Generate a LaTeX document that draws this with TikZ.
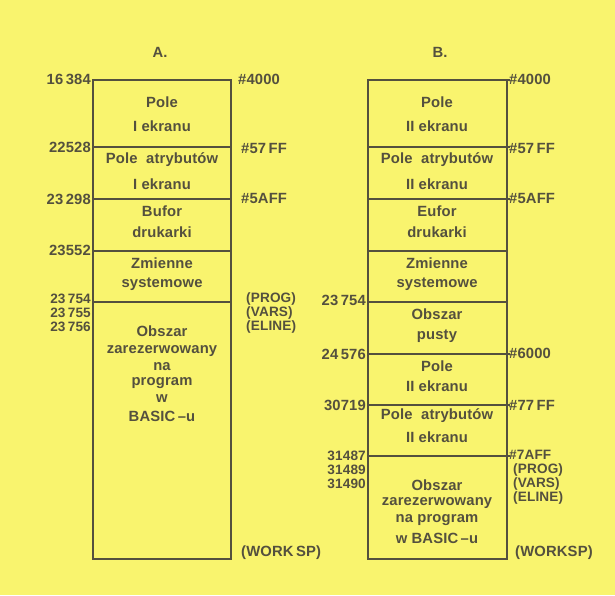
\documentclass[tikz,border=0pt]{standalone}
\usepackage{fontspec}
\setmainfont{Liberation Sans}
\definecolor{bg}{RGB}{249,244,110}
\definecolor{ink}{RGB}{84,80,62}
\begin{document}
\begin{tikzpicture}[x=1pt,y=-1pt,
  lbl/.style={font=\bfseries\fontsize{14.8}{16}\selectfont\addfontfeature{LetterSpace=1}, text=ink, inner sep=0pt},
  lnum/.style={lbl, anchor=east},
  rnum/.style={lbl, anchor=west},
  stk/.style={font=\bfseries\fontsize{13.6}{15}\selectfont\addfontfeature{LetterSpace=1}},
  memline/.style={draw=ink, line width=1.5pt},
]
\fill[bg] (0,0) rectangle (615,595);
\useasboundingbox (0,0) rectangle (615,595);

% titles
\node[lbl] (tA) at (160,52) {A.};
\node[lbl] (tB) at (440,52) {B.};

% ---------- Box A ----------
\draw[memline] (93,80) rectangle (231,559);
\foreach \yy in {147,199,251,302} \draw[memline] (93,\yy) -- (231,\yy);

\node[lbl] (a1a) at (162,102) {Pole};
\node[lbl] (a1b) at (162,126) {I ekranu};
\node[lbl] (a2a) at (162,160) {Pole\ \ atrybutów};
\node[lbl] (a2b) at (162,184) {I ekranu};
\node[lbl] (a3a) at (162,211) {Bufor};
\node[lbl] (a3b) at (162,232) {drukarki};
\node[lbl] (a4a) at (162,263) {Zmienne};
\node[lbl] (a4b) at (162,284) {systemowe};
\node[lbl] (a5a) at (162,331) {Obszar};
\node[lbl] (a5b) at (162,351) {zarezerwowany};
\node[lbl] (a5c) at (162,367) {na};
\node[lbl] (a5d) at (162,383) {program};
\node[lbl] (a5e) at (162,399) {w};
\node[lbl] (a5f) at (162,416) {BASIC\,–u};

\node[lnum] (an1) at (91,79) {16\,384};
\node[lnum] (an2) at (91,147) {22528};
\node[lnum] (an3) at (91,199) {23\,298};
\node[lnum] (an4) at (91,250) {23552};
\node[lnum,stk] (an5) at (91,299) {23\,754};
\node[lnum,stk] (an6) at (91,313) {23\,755};
\node[lnum,stk] (an7) at (91,327) {23\,756};

\node[rnum] (ah1) at (238,79) {\#4000};
\node[rnum] (ah2) at (241,148) {\#57\,FF};
\node[rnum] (ah3) at (241,198) {\#5AFF};
\node[rnum,stk] (ap1) at (246,299) {(PROG)};
\node[rnum,stk] (ap2) at (246,313) {(VARS)};
\node[rnum,stk] (ap3) at (246,327) {(ELINE)};
\node[rnum] (ap4) at (241,553) {(WORK\,SP)};

% ---------- Box B ----------
\draw[memline] (368,80) rectangle (507,559);
\foreach \yy in {80,147,199,354,405,456} \draw[memline] (368,\yy) -- (510,\yy);
\foreach \yy in {251,302} \draw[memline] (368,\yy) -- (507,\yy);

\node[lbl] (b1a) at (437,102) {Pole};
\node[lbl] (b1b) at (437,126) {II ekranu};
\node[lbl] (b2a) at (437,160) {Pole\ \ atrybutów};
\node[lbl] (b2b) at (437,184) {II ekranu};
\node[lbl] (b3a) at (437,211) {Eufor};
\node[lbl] (b3b) at (437,232) {drukarki};
\node[lbl] (b4a) at (437,263) {Zmienne};
\node[lbl] (b4b) at (437,284) {systemowe};
\node[lbl] (b5a) at (437,314) {Obszar};
\node[lbl] (b5b) at (437,336) {pusty};
\node[lbl] (b6a) at (437,366) {Pole};
\node[lbl] (b6b) at (437,386) {II ekranu};
\node[lbl] (b7a) at (437,416) {Pole\ \ atrybutów};
\node[lbl] (b7b) at (437,437) {II ekranu};
\node[lbl] (b8a) at (437,485) {Obszar};
\node[lbl] (b8b) at (437,503) {zarezerwowany};
\node[lbl] (b8c) at (437,520) {na program};
\node[lbl] (b8d) at (437,538) {w\ BASIC\,–u};

\node[lnum] (bn1) at (366,300) {23\,754};
\node[lnum] (bn2) at (366,354) {24\,576};
\node[lnum] (bn3) at (366,405) {30719};
\node[lnum,stk] (bn4) at (366,456) {31487};
\node[lnum,stk] (bn5) at (366,470) {31489};
\node[lnum,stk] (bn6) at (366,484) {31490};

\node[rnum] (bh1) at (509,79) {\#4000};
\node[rnum] (bh2) at (509,148) {\#57\,FF};
\node[rnum] (bh3) at (509,198) {\#5AFF};
\node[rnum] (bh4) at (509,353) {\#6000};
\node[rnum] (bh5) at (509,405) {\#77\,FF};
\node[rnum,stk] (bh6) at (509,455) {\#7AFF};
\node[rnum,stk] (bp1) at (513,470) {(PROG)};
\node[rnum,stk] (bp2) at (513,484) {(VARS)};
\node[rnum,stk] (bp3) at (513,498) {(ELINE)};
\node[rnum] (bp4) at (515,553) {(WORKSP)};
\end{tikzpicture}
\end{document}
